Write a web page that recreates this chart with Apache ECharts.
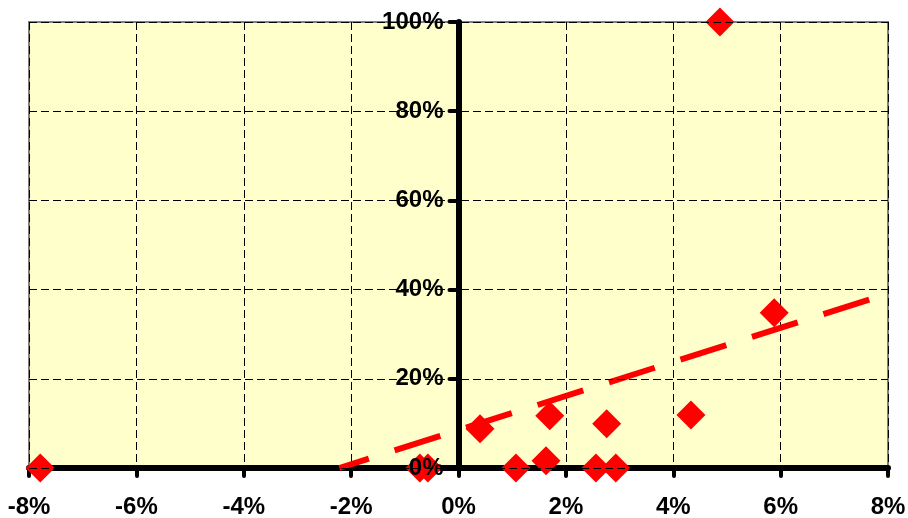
<!DOCTYPE html>
<html>
<head>
<meta charset="utf-8">
<script src="https://cdn.jsdelivr.net/npm/echarts@6/dist/echarts.min.js"></script>
<style>
  html, body { margin: 0; padding: 0; background: #fff; }
  #chart { width: 908px; height: 518px; }
</style>
</head>
<body>
<div id="chart"></div>
<script>
// x values (%) and y values (%) of the points
const xValues = [-7.79, -0.72, -0.57, 0.40, 1.07, 1.63, 1.70, 2.56, 2.93, 2.76, 4.33, 5.88, 4.87]
const yValues = [0, 0, 0, 8.8, 0, 1.6, 11.7, 0, 0, 9.9, 11.9, 34.8, 100]

// trend line end points
const trendX = [-2.22, 8]
const trendY = [0, 39.1]

const xTicks = { min: -8, max: 8, interval: 2 }
const yTicks = { min: 0, max: 100, interval: 20 }

const labelFont = {
  fontFamily: 'Liberation Sans, Arial, sans-serif',
  fontWeight: 'bold',
  fontSize: 24,
  color: '#000'
}

const gridLeft = 29
const gridRight = 20
const plotWidth = 908 - gridLeft - gridRight
// y axis sits at x = 0, pushed in from the left edge
const yAxisShift = plotWidth * (0 - xTicks.min) / (xTicks.max - xTicks.min)

const chart = echarts.init(document.getElementById('chart'))

const option = {
  animation: false,
  grid: {
    left: gridLeft,
    right: gridRight,
    top: 22,
    bottom: 50,
    containLabel: false,
    outerBoundsMode: 'none',
    show: true,
    backgroundColor: '#FFFFCC',
    borderColor: '#808080',
    borderWidth: 2
  },
  xAxis: {
    type: 'value',
    min: xTicks.min,
    max: xTicks.max,
    interval: xTicks.interval,
    axisLine: {
      show: true,
      onZero: false,
      lineStyle: { color: '#000', width: 6 }
    },
    axisTick: {
      show: true,
      length: 8,
      lineStyle: { color: '#000', width: 4, cap: 'round' }
    },
    axisLabel: {
      ...labelFont,
      margin: 27,
      formatter: '{value}%'
    },
    splitLine: {
      show: true,
      lineStyle: { color: '#000', width: 1, type: [8, 4] }
    }
  },
  yAxis: {
    type: 'value',
    min: yTicks.min,
    max: yTicks.max,
    interval: yTicks.interval,
    offset: -yAxisShift,
    z: 5,
    axisLine: {
      show: true,
      onZero: false,
      lineStyle: { color: '#000', width: 6 }
    },
    axisTick: {
      show: true,
      length: 9,
      lineStyle: { color: '#000', width: 4, cap: 'round' }
    },
    axisLabel: {
      ...labelFont,
      margin: 15,
      formatter: '{value}%'
    },
    splitLine: {
      show: true,
      lineStyle: { color: '#000', width: 1, type: [8, 4] }
    }
  },
  series: [
    {
      type: 'line',
      data: trendX.map((x, i) => [x, trendY[i]]),
      symbol: 'none',
      clip: true,
      lineStyle: {
        color: '#FF0000',
        width: 6,
        type: [48, 27],
        dashOffset: 17
      },
      z: 3
    },
    {
      type: 'scatter',
      data: xValues.map((x, i) => [x, yValues[i]]),
      symbol: 'diamond',
      symbolSize: 29,
      clip: false,
      itemStyle: { color: '#FF0000', opacity: 1 },
      z: 4
    }
  ]
}

chart.setOption(option)
</script>
</body>
</html>
